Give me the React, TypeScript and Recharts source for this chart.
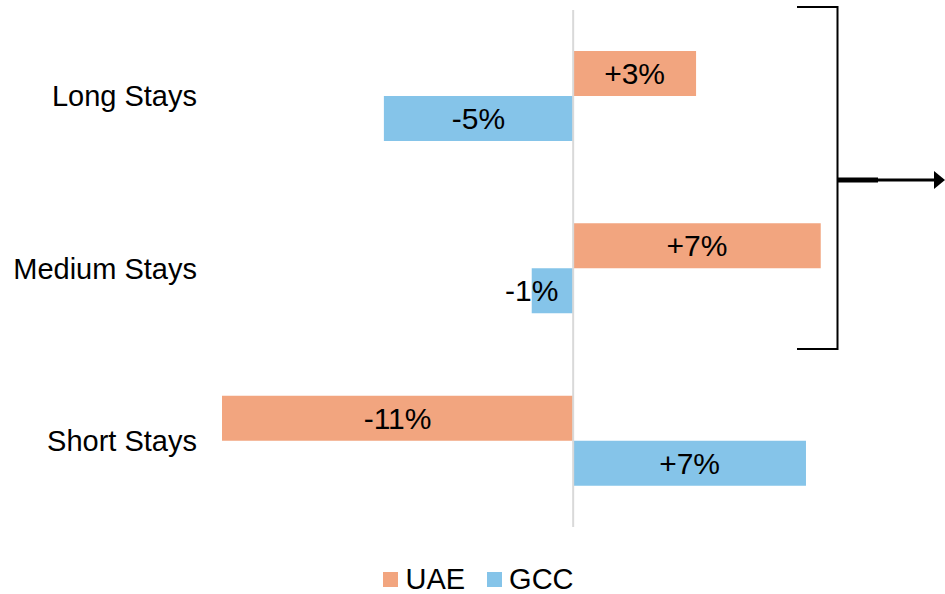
import { BarChart, Bar, XAxis, YAxis, ReferenceLine, LabelList, Legend, Customized } from 'recharts';

const categories = ['Long Stays', 'Medium Stays', 'Short Stays'];
const uaeValues = [3.5, 7.05, -10.0];
const gccValues = [-5.39, -1.18, 6.63];
const uaeLabels = ['+3%', '+7%', '-11%'];
const gccLabels = ['-5%', '-1%', '+7%'];

const UAE_COLOR = '#F2A57F';
const GCC_COLOR = '#85C4E9';
const FONT = 'Arial, "Liberation Sans", Helvetica, sans-serif';

const data = categories.map((name, i) => ({
  name,
  uae: uaeValues[i],
  gcc: gccValues[i],
}));

const makeLabel = (texts: string[]) => (props: any) => {
  const { x, y, width, height, index } = props;
  const left = Math.min(x, x + width);
  const w = Math.abs(width);
  // narrow bars: Excel lets the label hang off the outer end
  const cx = w < 60 ? left : left + w / 2;
  return (
    <text
      x={cx}
      y={y + height / 2}
      textAnchor="middle"
      dominantBaseline="central"
      fontFamily={FONT}
      fontSize={30}
      fill="#000"
    >
      {texts[index]}
    </text>
  );
};

const Bracket = () => (
  <g stroke="#000" fill="none">
    <path d="M797 7 H837.5 V349 H797" strokeWidth={2} />
    <line x1={837} y1={180} x2={878} y2={180} strokeWidth={5} />
    <line x1={878} y1={180} x2={937} y2={180} strokeWidth={3} />
    <path d="M934 171 L945 180 L934 189 Z" fill="#000" stroke="none" />
  </g>
);

const renderLegend = () => (
  <div style={{ display: 'flex', justifyContent: 'center', paddingLeft: 12, fontFamily: FONT, fontSize: 29, color: '#000' }}>
    {[
      { name: 'UAE', color: UAE_COLOR },
      { name: 'GCC', color: GCC_COLOR },
    ].map((s, i) => (
      <div key={s.name} style={{ display: 'flex', alignItems: 'center', marginLeft: i ? 22 : 0 }}>
        <span style={{ display: 'inline-block', width: 15, height: 15, background: s.color, marginRight: 7 }} />
        <span>{s.name}</span>
      </div>
    ))}
  </div>
);

export default function App() {
  return (
    <div style={{ position: 'absolute', left: 0, top: 0, width: 945, height: 594, background: '#fff' }}>
      <BarChart
        width={945}
        height={594}
        data={data}
        layout="vertical"
        margin={{ top: 10, right: 119, bottom: 67, left: 0 }}
        barGap={0}
        barSize={45}
      >
        <XAxis type="number" domain={[-10, 7.2]} hide allowDataOverflow />
        <YAxis
          type="category"
          dataKey="name"
          width={222}
          axisLine={false}
          tickLine={false}
          tickMargin={19}
          tick={{ fontFamily: FONT, fontSize: 29, fill: '#000' }}
        />
        <Bar dataKey="uae" name="UAE" fill={UAE_COLOR} isAnimationActive={false}>
          <LabelList dataKey="uae" content={makeLabel(uaeLabels)} />
        </Bar>
        <Bar dataKey="gcc" name="GCC" fill={GCC_COLOR} isAnimationActive={false}>
          <LabelList dataKey="gcc" content={makeLabel(gccLabels)} />
        </Bar>
        <ReferenceLine x={0} stroke="#D9D9D9" strokeWidth={2} />
        <Legend verticalAlign="middle" wrapperStyle={{ top: 563, left: 0, width: 945 }} content={renderLegend} />
        <Customized component={Bracket} />
      </BarChart>
    </div>
  );
}
